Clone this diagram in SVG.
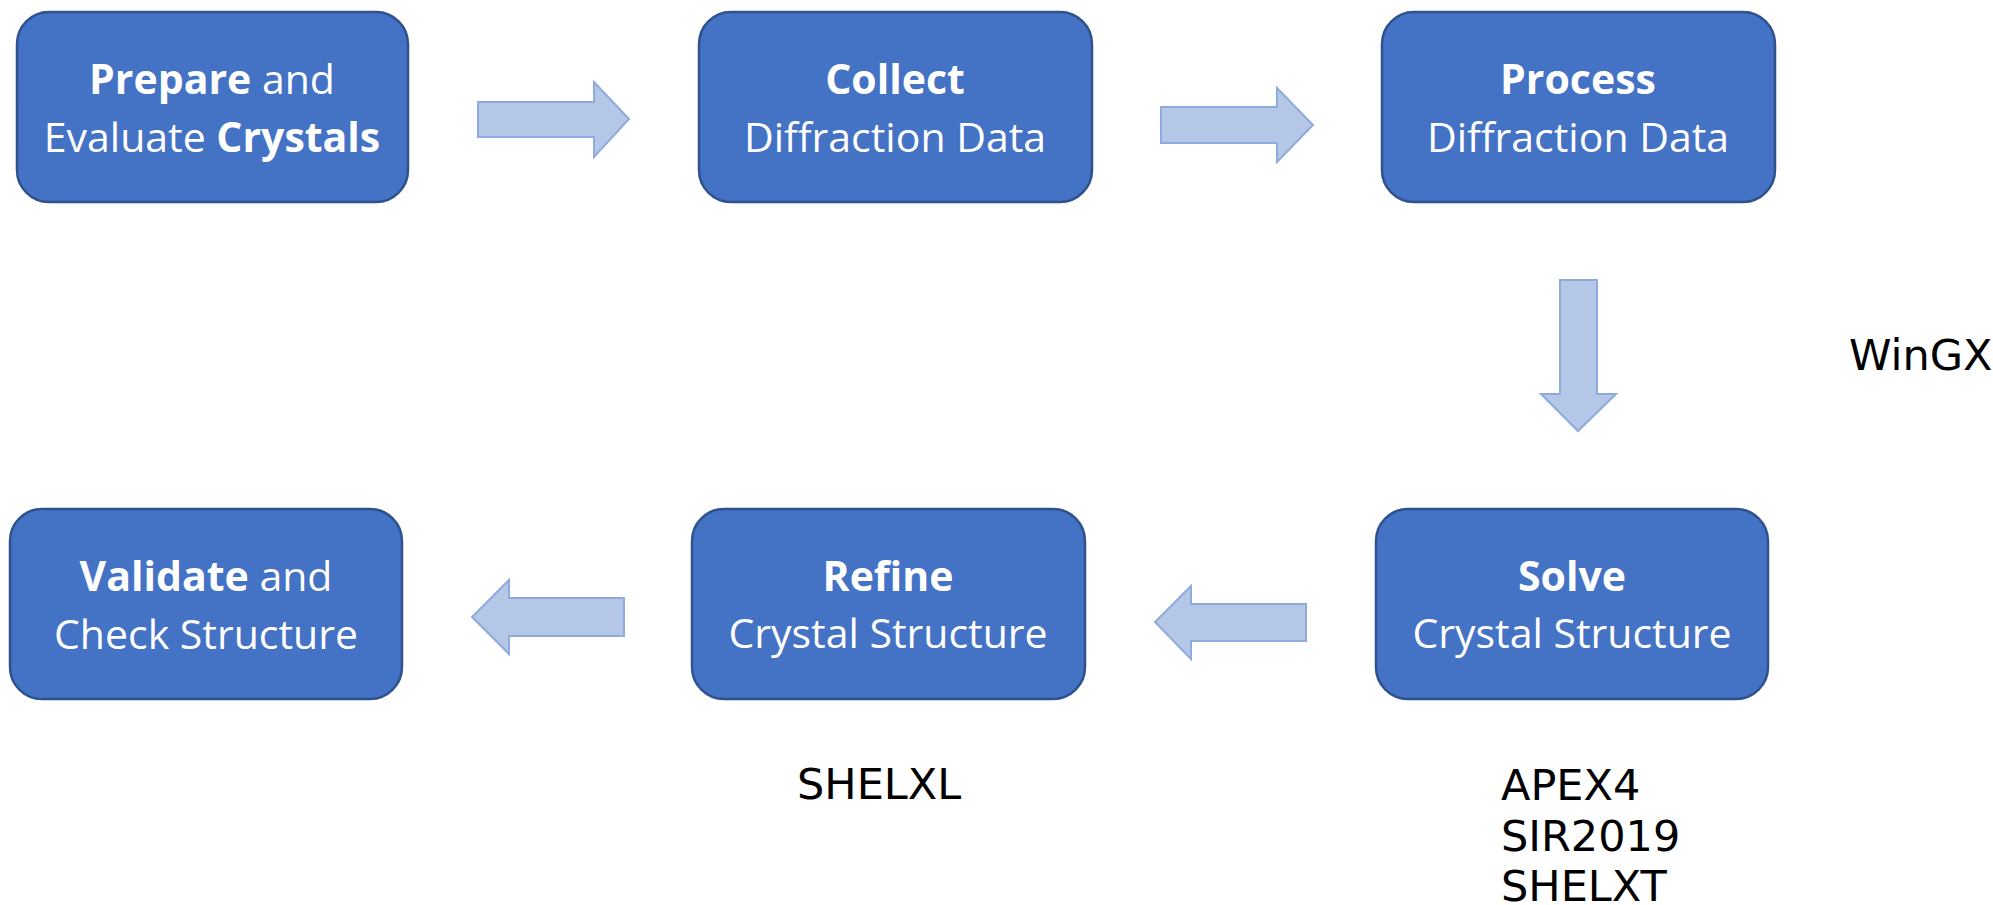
<svg xmlns="http://www.w3.org/2000/svg" width="1993" height="905" viewBox="0 0 1993 905">
<style>
.node rect{fill:#4472C4;stroke:#2F528F;stroke-width:2.5}
.node text{font-family:"Open Sans",Lato,sans-serif;font-size:41px;fill:#FFFFFF;text-anchor:middle}
.b{font-weight:bold}
.arrow{fill:#B4C7E7;stroke:#8FAADC;stroke-width:2}
.lbl{font-family:"DejaVu Sans",Verdana,sans-serif;font-size:43px;fill:#000000}
</style>
<rect width="1993" height="905" fill="#FFFFFF"/>
<g id="connectors">
<polygon class="arrow" points="478,102 594,102 594,82 629,119 594,157 594,137 478,137"/>
<polygon class="arrow" points="1161,107 1277,107 1277,88 1313,125 1277,162 1277,143 1161,143"/>
<polygon class="arrow" points="1560,280 1597,280 1597,394 1616,394 1578,431 1541,394 1560,394"/>
<polygon class="arrow" points="1306,604 1191,604 1191,586 1155,622 1191,659 1191,641 1306,641"/>
<polygon class="arrow" points="624,598 509,598 509,580 472,617 509,654 509,636 624,636"/>
</g>
<g id="node-prepare" class="node">
<rect x="17" y="12" width="391" height="190" rx="32"/>
<text x="212" y="94"><tspan class="b">Prepare</tspan> and</text>
<text x="212" y="152">Evaluate <tspan class="b">Crystals</tspan></text>
</g>
<g id="node-collect" class="node">
<rect x="699" y="12" width="393" height="190" rx="32"/>
<text x="895" y="94" class="b">Collect</text>
<text x="895" y="152">Diffraction Data</text>
</g>
<g id="node-process" class="node">
<rect x="1382" y="12" width="393" height="190" rx="32"/>
<text x="1578" y="94" class="b">Process</text>
<text x="1578" y="152">Diffraction Data</text>
</g>
<g id="node-solve" class="node">
<rect x="1376" y="509" width="392" height="190" rx="32"/>
<text x="1572" y="591" class="b">Solve</text>
<text x="1572" y="648">Crystal Structure</text>
</g>
<g id="node-refine" class="node">
<rect x="692" y="509" width="393" height="190" rx="32"/>
<text x="888" y="591" class="b">Refine</text>
<text x="888" y="648">Crystal Structure</text>
</g>
<g id="node-validate" class="node">
<rect x="10" y="509" width="392" height="190" rx="32"/>
<text x="206" y="591"><tspan class="b">Validate</tspan> and</text>
<text x="206" y="649">Check Structure</text>
</g>
<g id="labels">
<text class="lbl" x="1849" y="370">WinGX</text>
<text class="lbl" x="797" y="799">SHELXL</text>
<text class="lbl" x="1501" y="800">APEX4</text>
<text class="lbl" x="1501" y="851">SIR2019</text>
<text class="lbl" x="1501" y="901">SHELXT</text>
</g>
</svg>
